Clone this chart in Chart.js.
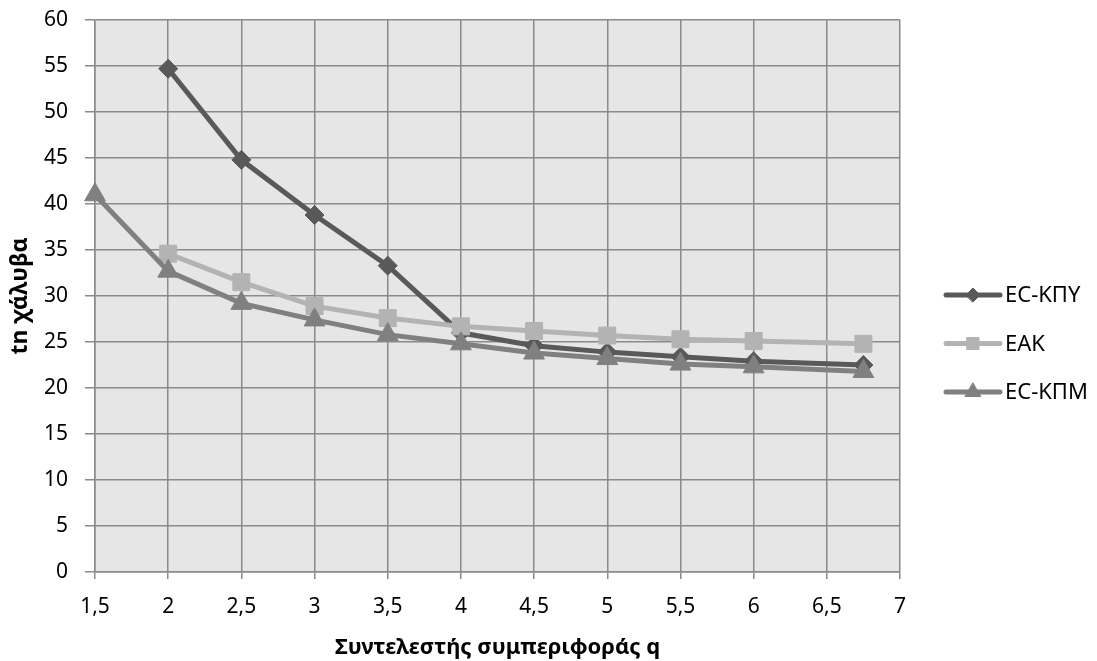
<!DOCTYPE html>
<html>
<head>
<meta charset="utf-8">
<script src="https://cdn.jsdelivr.net/npm/chart.js@4.4.1/dist/chart.umd.min.js"></script>
<style>
  html, body { margin: 0; padding: 0; background: #fff; }
  #wrap { width: 1097px; height: 661px; }
</style>
</head>
<body>
<div id="wrap"><canvas id="chart"></canvas></div>
<script>
// behaviour factor q and tonnes of steel per design approach
const qValues = [1.5, 2, 2.5, 3, 3.5, 4, 4.5, 5, 5.5, 6, 6.75];
const ecKpy  = [null, 54.7, 44.8, 38.8, 33.3, 26.0, 24.6, 23.9, 23.4, 22.9, 22.5];
const eak    = [null, 34.6, 31.5, 28.9, 27.6, 26.7, 26.2, 25.7, 25.3, 25.1, 24.8];
const ecKpm  = [41.0, 32.7, 29.2, 27.4, 25.8, 24.8, 23.8, 23.2, 22.6, 22.3, 21.8];
const seriesNames = ['EC-ΚΠΥ', 'ΕΑΚ', 'EC-ΚΠΜ'];
const xTitle = 'Συντελεστής συμπεριφοράς q';
const yTitle = 'tn χάλυβα';

const FONT = "'Noto Sans', 'Open Sans', sans-serif";
const GRID = '#8a8a8a';

const styles = [
  { color: '#595959', pointStyle: 'rectRot', radius: 9.5, legendRadius: 7 },
  { color: '#b3b3b3', pointStyle: 'rect', radius: 12, legendRadius: 8.5 },
  { color: '#808080', pointStyle: 'triangle', radius: 12, legendRadius: 9 }
];

const toPoints = vals => qValues.map((q, i) => ({ x: q, y: vals[i] })).filter(p => p.y !== null);

const datasets = [ecKpy, eak, ecKpm].map((vals, i) => ({
  label: seriesNames[i],
  data: toPoints(vals),
  borderColor: styles[i].color,
  backgroundColor: styles[i].color,
  pointBackgroundColor: styles[i].color,
  pointBorderColor: styles[i].color,
  pointBorderWidth: 1,
  pointStyle: styles[i].pointStyle,
  pointRadius: styles[i].radius,
  borderWidth: 5,
  tension: 0,
  clip: false,
  order: 3 - i // first series painted first, last on top
}));

const comma = v => String(v).replace('.', ',');

// grey plotting area
const plotBg = {
  id: 'plotBg',
  beforeDraw(chart) {
    const { ctx, chartArea: a } = chart;
    ctx.save();
    ctx.fillStyle = '#e6e6e6';
    ctx.fillRect(a.left, a.top, a.right - a.left, a.bottom - a.top);
    ctx.restore();
  }
};

// legend with line + marker, to the right of the plot
const sideLegend = {
  id: 'sideLegend',
  afterDraw(chart) {
    const { ctx, chartArea: a } = chart;
    const x0 = a.right + 46, x1 = a.right + 100;
    ctx.save();
    chart.data.datasets.forEach((ds, i) => {
      const y = 295 + i * 48.5;
      const st = styles[i];
      ctx.strokeStyle = st.color;
      ctx.lineWidth = 5;
      ctx.lineCap = 'round';
      ctx.beginPath();
      ctx.moveTo(x0, y);
      ctx.lineTo(x1, y);
      ctx.stroke();
      ctx.fillStyle = st.color;
      ctx.lineWidth = 1;
      Chart.helpers.drawPoint(ctx, { pointStyle: st.pointStyle, radius: st.legendRadius, rotation: 0, borderWidth: 1 }, (x0 + x1) / 2, y);
      ctx.fillStyle = '#000';
      ctx.font = '22px ' + FONT;
      ctx.textBaseline = 'middle';
      ctx.textAlign = 'left';
      ctx.fillText(ds.label, x1 + 5, y + 1);
    });
    ctx.restore();
  }
};

new Chart(document.getElementById('chart'), {
  type: 'line',
  data: { datasets },
  plugins: [plotBg, sideLegend],
  options: {
    responsive: true,
    maintainAspectRatio: false,
    animation: false,
    layout: { padding: { left: 0, top: 20, right: 197, bottom: 0 } },
    plugins: { legend: { display: false }, tooltip: { enabled: false } },
    scales: {
      x: {
        type: 'linear',
        min: 1.5,
        max: 7,
        afterFit: s => { s.height = 89; s.paddingLeft = 0; s.paddingRight = 0; },
        grid: { color: GRID, lineWidth: 1.5, tickLength: 7, tickColor: GRID },
        border: { color: GRID, width: 1.5 },
        ticks: {
          stepSize: 0.5,
          padding: 15,
          color: '#000',
          font: { family: FONT, size: 21 },
          callback: v => comma(v)
        },
        title: {
          display: true,
          text: xTitle,
          color: '#000',
          font: { family: FONT, size: 22, weight: 'bold' },
          padding: { top: 0, bottom: 0 }
        }
      },
      y: {
        min: 0,
        max: 60,
        afterFit: s => { s.width = 95; s.paddingTop = 0; s.paddingBottom = 0; },
        grid: { color: GRID, lineWidth: 1.5, tickLength: 10, tickColor: GRID },
        border: { color: GRID, width: 1.5 },
        ticks: {
          stepSize: 5,
          padding: 17,
          color: '#000',
          font: { family: FONT, size: 21 },
          callback: v => comma(v)
        },
        title: {
          display: true,
          text: yTitle,
          color: '#000',
          font: { family: FONT, size: 23, weight: 'bold' },
          padding: { top: 7, bottom: 7 }
        }
      }
    }
  }
});
</script>
</body>
</html>
